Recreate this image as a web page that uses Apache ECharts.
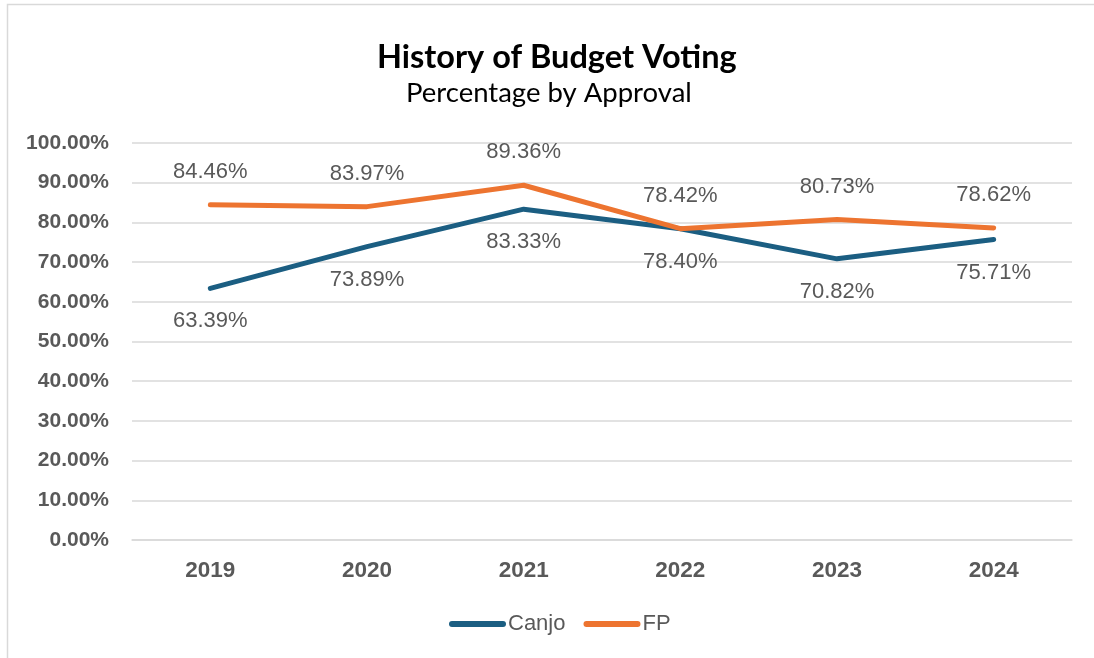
<!DOCTYPE html>
<html>
<head>
<meta charset="utf-8">
<style>
  html, body { margin: 0; padding: 0; background: #ffffff; }
  #chart { width: 1094px; height: 658px; }
</style>
<script src="https://cdn.jsdelivr.net/npm/echarts@6/dist/echarts.min.js"></script>
</head>
<body>
<div id="chart"></div>
<script>
// Budget approval rates per year, in percent
const years = ['2019', '2020', '2021', '2022', '2023', '2024'];
const canjo = [63.39, 73.89, 83.33, 78.40, 70.82, 75.71];
const fp = [84.46, 83.97, 89.36, 78.42, 80.73, 78.62];
const yTicks = [0, 10, 20, 30, 40, 50, 60, 70, 80, 90, 100];

const BLUE = '#1B5E82';
const ORANGE = '#ED7430';
const GRAY_TEXT = '#595959';
const GRID = '#D9D9D9';
const NUM_FONT = '"Liberation Sans", Arial, sans-serif';
const TITLE_FONT = 'Lato, "Open Sans", sans-serif';

const legendIcon = 'path://M3,0 L54,0 A3,3 0 0 1 54,6 L3,6 A3,3 0 0 1 3,0 Z';

const chart = echarts.init(document.getElementById('chart'), null, { renderer: 'canvas' });

function lineSeries(name, data, color, pos) {
  return {
    name: name,
    type: 'line',
    data: data,
    symbol: 'circle',
    symbolSize: 0.1,
    showSymbol: true,
    lineStyle: { color: color, width: 5, cap: 'round', join: 'round' },
    itemStyle: { color: color },
    label: {
      show: true,
      position: pos,
      distance: 22,
      formatter: p => p.value.toFixed(2) + '%',
      color: GRAY_TEXT,
      fontFamily: NUM_FONT,
      fontSize: 22
    },
    emphasis: { disabled: true },
    animation: false
  };
}

chart.setOption({
  backgroundColor: '#ffffff',
  animation: false,
  graphic: [{
    type: 'rect',
    shape: { x: 7.5, y: 4.5, width: 1200, height: 800 },
    style: { fill: 'none', stroke: GRID, lineWidth: 1.5 },
    silent: true,
    z: -1
  }],
  title: [{
    text: 'History of Budget Voting',
    left: 372,
    top: 36,
    textStyle: { fontFamily: TITLE_FONT, fontWeight: 'bold', fontSize: 32.5, color: '#000000' }
  }, {
    text: 'Percentage by Approval',
    left: 401,
    top: 74,
    textStyle: { fontFamily: TITLE_FONT, fontWeight: 'normal', fontSize: 27.5, color: '#000000' }
  }],
  legend: {
    bottom: 18,
    left: 444,
    icon: legendIcon,
    itemWidth: 57,
    itemHeight: 6,
    itemGap: 18,
    textStyle: { fontFamily: NUM_FONT, fontSize: 22, color: GRAY_TEXT, padding: [0, 0, 0, -3] },
    data: ['Canjo', 'FP']
  },
  grid: { left: 132, right: 22, top: 143, bottom: 118, containLabel: false },
  xAxis: {
    type: 'category',
    data: years,
    boundaryGap: true,
    axisLine: { show: true, lineStyle: { color: GRID, width: 1.5 } },
    axisTick: { show: false },
    axisLabel: {
      color: GRAY_TEXT,
      fontFamily: NUM_FONT,
      fontWeight: 'bold',
      fontSize: 22.5,
      margin: 19
    }
  },
  yAxis: {
    type: 'value',
    min: yTicks[0],
    max: yTicks[yTicks.length - 1],
    interval: 10,
    axisLine: { show: false },
    axisTick: { show: false },
    splitLine: { lineStyle: { color: GRID, width: 1.5 } },
    axisLabel: {
      color: GRAY_TEXT,
      fontFamily: NUM_FONT,
      fontWeight: 'bold',
      fontSize: 21,
      margin: 23,
      formatter: v => v.toFixed(2) + '%'
    }
  },
  series: [
    lineSeries('Canjo', canjo, BLUE, 'bottom'),
    lineSeries('FP', fp, ORANGE, 'top')
  ]
});
</script>
</body>
</html>
